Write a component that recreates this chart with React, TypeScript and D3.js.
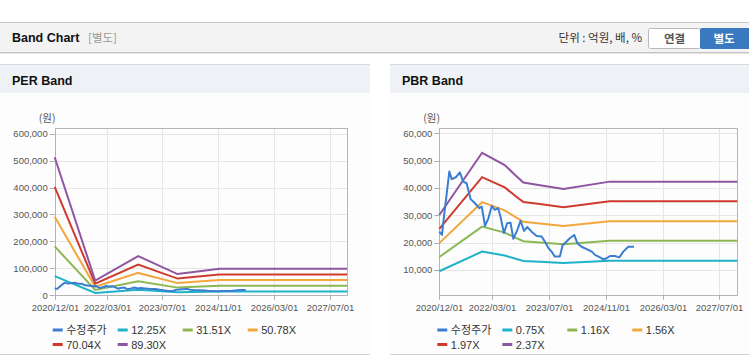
import React from "react";
import * as d3 from "d3";

// ---------- DATA ----------
const priceDates = [
  "2020-12-01","2020-12-24","2021-01-10","2021-02-25","2021-03-18","2021-04-22","2021-05-26",
  "2021-06-24","2021-07-23","2021-08-27","2021-10-03","2021-11-09","2021-11-30","2021-12-28",
  "2022-01-26","2022-02-24","2022-03-22","2022-04-20","2022-05-10","2022-06-08","2022-07-06",
  "2022-08-04","2022-08-28","2022-10-01","2022-10-29","2022-11-28","2022-12-25","2023-02-01",
  "2023-03-16","2023-04-28","2023-05-25","2023-06-22","2023-07-22","2023-08-19","2023-10-01",
  "2023-10-25","2023-11-28","2023-12-25","2024-02-01","2024-02-28","2024-04-04","2024-05-18",
  "2024-07-01","2024-07-28","2024-09-10","2024-10-07","2024-11-06","2024-12-04","2025-01-16",
  "2025-02-22","2025-03-28","2025-05-10","2025-06-28",
];
const priceValues = [
  24000, 22800, 29500, 46000, 43200, 43900, 45700,
  42300, 41700, 35900, 34400, 32600, 33200, 26100,
  28900, 33400, 32000, 32600, 29500, 23500, 27100,
  27300, 21400, 24600, 28000, 24300, 25700, 24000,
  22400, 22200, 20400, 18200, 16700, 14900, 14900,
  19100, 20400, 21600, 22800, 19800, 18500, 17600,
  16700, 15500, 14600, 13900, 14300, 15100, 15100,
  14600, 16700, 18500, 18500,
];

const perBandDates = ["2020-12-01","2021-11-20","2022-12-01","2023-11-10","2024-11-10","2027-12-01"];
const per1225 = [70400, 7400, 19800, 10700, 13400, 13400];
const per3151 = [181000, 18900, 51000, 27500, 34500, 34500];
const per5078 = [291700, 30500, 82300, 44300, 55600, 55600];
const per7004 = [402400, 42000, 113500, 61100, 76700, 76700];
const per8930 = [513000, 53600, 144700, 78000, 97800, 97800];
const perLabels = ["수정주가", "12.25X", "31.51X", "50.78X", "70.04X", "89.30X"];
const perYTicks = [0, 100000, 200000, 300000, 400000, 500000, 600000];

const pbrBandDates = ["2020-12-01","2021-12-03","2022-06-15","2022-09-10","2022-11-22","2023-04-13","2023-11-01","2024-12-01","2027-12-01"];
const pbr075 = [9525, 16725, 15300, 14175, 13275, 12975, 12525, 13390, 13390];
const pbr116 = [14730, 25870, 23660, 21920, 20530, 20070, 19370, 20710, 20710];
const pbr156 = [19810, 34790, 31820, 29480, 27610, 26990, 26050, 27850, 27850];
const pbr197 = [25020, 43930, 40190, 37230, 34870, 34080, 32900, 35160, 35160];
const pbr237 = [30100, 52850, 48350, 44790, 41950, 41000, 39580, 42300, 42300];
const pbrLabels = ["수정주가", "0.75X", "1.16X", "1.56X", "1.97X", "2.37X"];
const pbrYTicks = [10000, 20000, 30000, 40000, 50000, 60000];

const xTickDates = ["2020-12-01","2022-03-01","2023-07-01","2024-11-01","2026-03-01","2027-07-01"];
const xTickLabels = ["2020/12/01","2022/03/01","2023/07/01","2024/11/01","2026/03/01","2027/07/01"];
const xDomain = ["2020-12-01", "2027-12-01"];

const colors = ["#3b7dd0", "#1fb2c8", "#8db752", "#f2a73d", "#cf3a2e", "#8f55a0"];

// ---------- HELPERS ----------
const parse = d3.timeParse("%Y-%m-%d");
const fmt = d3.format(",");
const FONT = "'Liberation Sans', Arial, 'Noto Sans CJK KR', sans-serif";
const KFONT = "'Noto Sans CJK KR', 'Liberation Sans', sans-serif";

type Series = { dates: string[]; values: number[] };

function Chart(props: {
  title: string;
  panelX: number;
  panelW: number;
  left: number;
  right: number;
  top: number;
  bottom: number;
  yDomain: [number, number];
  yTicks: number[];
  series: Series[];
  labels: string[];
}) {
  const { title, panelX, panelW, left, right, top, bottom, yDomain, yTicks, series, labels } = props;
  const x = d3.scaleTime().domain(xDomain.map((d) => parse(d) as Date)).range([left, right]);
  const y = d3.scaleLinear().domain(yDomain).range([bottom, top]);
  const line = d3
    .line<[Date, number]>()
    .x((d) => x(d[0]))
    .y((d) => y(d[1]));
  const legendX0 = left - 2;
  const colW = 65;
  return (
    <g>
      {/* panel */}
      <rect x={panelX} y={64} width={panelW} height={290} fill="#fdfdfd" />
      <rect x={panelX} y={64} width={panelW} height={29} fill="#eef2f7" />
      <line x1={panelX} x2={panelX + panelW} y1={64.5} y2={64.5} stroke="#d8d8d8" />
      <line x1={panelX} x2={panelX + panelW} y1={354.5} y2={354.5} stroke="#d0d0d0" />
      <text x={panelX + 12} y={85} fontFamily={FONT} fontWeight="bold" fontSize={12.5} fill="#111">
        {title}
      </text>
      <text x={left - 16} y={122} fontFamily={KFONT} fontSize={10.5} fill="#555">
        (원)
      </text>
      {/* grid */}
      {yTicks.map((t) => (
        <g key={"y" + t}>
          <line x1={left} x2={right} y1={Math.round(y(t)) + 0.5} y2={Math.round(y(t)) + 0.5} stroke="#e6e6e6" />
          <line x1={left - 5} x2={left} y1={Math.round(y(t)) + 0.5} y2={Math.round(y(t)) + 0.5} stroke="#b0b0b0" />
          <text
            x={left - 7}
            y={y(t) + 3.5}
            textAnchor="end"
            fontFamily={FONT}
            fontSize={9.5}
            fill="#555"
          >
            {fmt(t)}
          </text>
        </g>
      ))}
      {xTickDates.map((d, i) => {
        const xx = Math.round(x(parse(d) as Date)) + 0.5;
        return (
          <g key={"x" + d}>
            <line x1={xx} x2={xx} y1={top} y2={bottom} stroke="#e6e6e6" />
            <line x1={xx} x2={xx} y1={bottom} y2={bottom + 5} stroke="#b0b0b0" />
            <text x={xx} y={bottom + 16} textAnchor="middle" fontFamily={FONT} fontSize={9.5} fill="#555">
              {xTickLabels[i]}
            </text>
          </g>
        );
      })}
      <rect
        x={Math.round(left) + 0.5}
        y={Math.round(top) + 0.5}
        width={Math.round(right) - Math.round(left)}
        height={Math.round(bottom) - Math.round(top)}
        fill="none"
        stroke="#b5b5b5"
      />
      {/* lines: bands then price */}
      <g clipPath="none">
        {series.slice(1).map((s, i) => (
          <path
            key={"b" + i}
            d={line(s.dates.map((d, j) => [parse(d) as Date, s.values[j]])) || ""}
            fill="none"
            stroke={colors[i + 1]}
            strokeWidth={2}
          />
        ))}
        <path
          d={line(series[0].dates.map((d, j) => [parse(d) as Date, series[0].values[j]])) || ""}
          fill="none"
          stroke={colors[0]}
          strokeWidth={2}
          strokeLinejoin="round"
        />
      </g>
      {/* legend */}
      {labels.map((lab, i) => {
        const col = i < 4 ? i : i - 4;
        const row = i < 4 ? 0 : 1;
        const lx = legendX0 + col * colW;
        const ly = 330 + row * 14.5;
        return (
          <g key={"l" + i}>
            <line x1={lx} x2={lx + 10} y1={ly} y2={ly} stroke={colors[i]} strokeWidth={3} />
            <text x={lx + 13.5} y={ly + 4} fontFamily={i === 0 ? KFONT : FONT} fontSize={11} fill="#333">
              {lab}
            </text>
          </g>
        );
      })}
    </g>
  );
}

export default function App() {
  const perSeries: Series[] = [
    { dates: priceDates, values: priceValues },
    { dates: perBandDates, values: per1225 },
    { dates: perBandDates, values: per3151 },
    { dates: perBandDates, values: per5078 },
    { dates: perBandDates, values: per7004 },
    { dates: perBandDates, values: per8930 },
  ];
  const pbrSeries: Series[] = [
    { dates: priceDates, values: priceValues },
    { dates: pbrBandDates, values: pbr075 },
    { dates: pbrBandDates, values: pbr116 },
    { dates: pbrBandDates, values: pbr156 },
    { dates: pbrBandDates, values: pbr197 },
    { dates: pbrBandDates, values: pbr237 },
  ];
  return (
    <svg
      width={749}
      height={364}
      style={{ position: "absolute", left: 0, top: 0, background: "#fff" }}
    >
      {/* top header */}
      <rect x={0} y={22} width={749} height={31} fill="#f3f3f3" />
      <line x1={0} x2={749} y1={22.5} y2={22.5} stroke="#c8c8c8" />
      <line x1={0} x2={749} y1={52.5} y2={52.5} stroke="#c4c4c4" />
      <line x1={0} x2={749} y1={53.5} y2={53.5} stroke="#e4e4e4" />
      <text x={12} y={42} fontFamily={FONT} fontWeight="bold" fontSize={12.5} fill="#111">
        Band Chart
      </text>
      <text x={88} y={42} fontFamily={KFONT} fontSize={11.5} fill="#999">
        [별도]
      </text>
      <text x={642} y={42} textAnchor="end" fontFamily={KFONT} fontSize={11.5} fill="#333">
        단위 : 억원, 배, %
      </text>
      <rect x={648.5} y={28.5} width={52} height={20} rx={2} fill="#fff" stroke="#b9b9b9" />
      <text x={674.5} y={42.5} textAnchor="middle" fontFamily={KFONT} fontWeight="bold" fontSize={11.5} fill="#555">
        연결
      </text>
      <rect x={700} y={28} width={52} height={21} rx={2} fill="#3a78c0" />
      <text x={724} y={42.5} textAnchor="middle" fontFamily={KFONT} fontWeight="bold" fontSize={11.5} fill="#fff">
        별도
      </text>
      <Chart
        title="PER Band"
        panelX={0}
        panelW={370}
        left={54.7}
        right={347}
        top={128.3}
        bottom={295}
        yDomain={[0, 621000]}
        yTicks={perYTicks}
        series={perSeries}
        labels={perLabels}
      />
      <Chart
        title="PBR Band"
        panelX={390}
        panelW={359}
        left={439.3}
        right={737.3}
        top={128.3}
        bottom={294.7}
        yDomain={[960, 61800]}
        yTicks={pbrYTicks}
        series={pbrSeries}
        labels={pbrLabels}
      />
    </svg>
  );
}
